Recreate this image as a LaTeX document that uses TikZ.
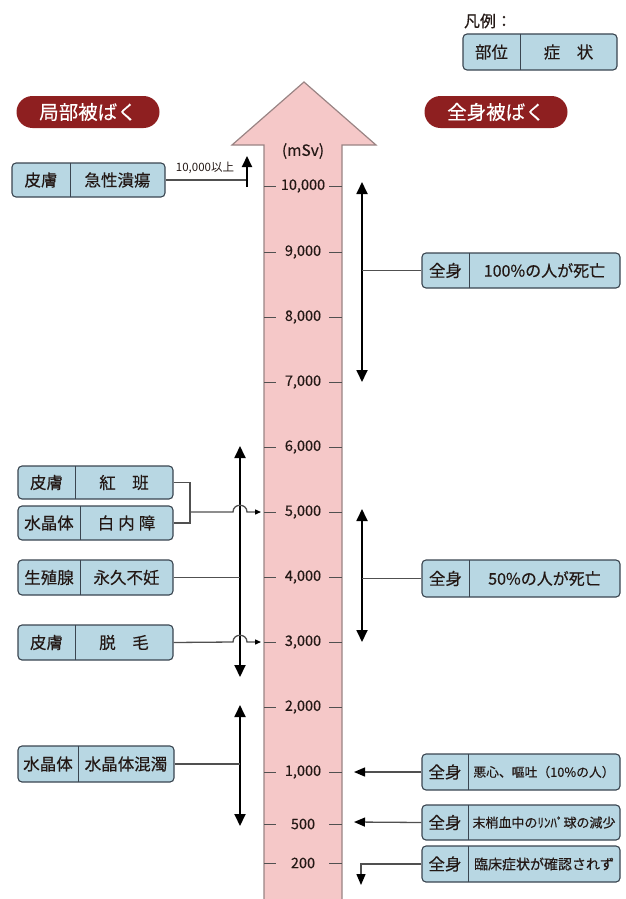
\documentclass[tikz,border=0pt]{standalone}
\usepackage{fontspec}
\setmainfont{Noto Sans CJK JP}
\newfontfamily\medfont[FakeBold=0.3]{Noto Sans CJK JP}
\usetikzlibrary{arrows.meta,fit}
\definecolor{boxfill}{HTML}{B8D7E3}
\definecolor{boxline}{HTML}{3A4550}
\definecolor{pillred}{HTML}{8E1F20}
\definecolor{shaftpink}{HTML}{F5C8C8}
\definecolor{shaftline}{HTML}{9A8484}
\definecolor{conngray}{HTML}{505050}
\definecolor{txt}{HTML}{231815}
\newcommand{\fsz}[1]{\fontsize{#1}{#1}\selectfont}
\newcommand{\partbox}[9]{%
  \node[box, fit={(#2,#3) (#4,#5)}] (#1) {};
  \draw[divline] (#6,#3) -- (#6,#5);
  \node[boxtxt] (#1p) at ({(#2+#6)/2},{(#3+#5)/2}) {#7};
  \node[boxtxt] (#1s) at ({(#6+#4)/2},{(#3+#5)/2}) {\fsz{#9}#8};
}
\newcommand{\tickmark}[3]{%
  \node[ticklbl] (#1) at (303,#2) {#3};
  \draw[tickline] (264,#2) -- (276,#2);
  \draw[tickline] (329,#2) -- (342,#2);
}
\begin{document}
\begin{tikzpicture}[x=1pt,y=-1pt,
  box/.style={draw=boxline, line width=1.1pt, fill=boxfill, rounded corners=4pt, inner sep=0pt},
  divline/.style={draw=boxline, line width=1pt},
  boxtxt/.style={text=txt, inner sep=0pt, font=\medfont\fsz{16.5}},
  pill/.style={fill=pillred, text=white, rounded corners=16pt, minimum width=143pt, minimum height=32pt, inner sep=0pt, font=\medfont\fsz{19.5}},
  ticklbl/.style={text=txt, inner sep=0pt, font=\medfont\fsz{14.5}},
  tickline/.style={draw=conngray, line width=1pt},
  conn/.style={draw=conngray, line width=1.3pt},
  connarr/.style={conn, -{Triangle[length=6pt,width=5pt,color=black,fill=black]}},
  bigarr/.style={conn, -{Triangle[length=11pt,width=9pt,color=black,fill=black]}},
  dbl/.style={draw=black, line width=1.8pt, {Triangle[length=12pt,width=11pt]}-{Triangle[length=12pt,width=11pt]}},
  sgl/.style={draw=black, line width=1.8pt, -{Triangle[length=11pt,width=10pt]}}
]
\useasboundingbox (0,0) rectangle (625,899);

% big arrow
\fill[shaftpink] (264,899) -- (264,145) -- (232,145) -- (304,82) -- (376,145) -- (342,145) -- (342,899) -- cycle;
\draw[shaftline, line width=1.2pt, line join=miter] (264,899) -- (264,145) -- (232,145) -- (304,82) -- (376,145) -- (342,145) -- (342,899);
\node[ticklbl, font=\medfont\fsz{15.5}] (unit) at (303,151) {(mSv)};

\tickmark{t10000}{186}{10,000}
\tickmark{t9000}{252}{9,000}
\tickmark{t8000}{317}{8,000}
\tickmark{t7000}{382}{7,000}
\tickmark{t6000}{447}{6,000}
\tickmark{t5000}{512}{5,000}
\tickmark{t4000}{577}{4,000}
\tickmark{t3000}{642}{3,000}
\tickmark{t2000}{707}{2,000}
\tickmark{t1000}{772}{1,000}
\tickmark{t500}{824}{500}
\tickmark{t200}{863}{200}

% legend
\node[text=txt, inner sep=0pt, font=\medfont\fsz{16}] (legtitle) at (488,21) {凡例：};
\partbox{leg}{463}{34}{617}{70}{520}{部位}{症\hspace{1em}状}{16.5}

% headers
\node[pill] (local) at (88,112) {局部被ばく};
\node[pill] (whole) at (496,112) {全身被ばく};

% left boxes
\partbox{A}{12}{163}{165}{197}{70}{皮膚}{急性潰瘍}{16.5}
\partbox{B}{18}{466}{173}{499}{75}{皮膚}{紅\hspace{1em}班}{16.5}
\partbox{C}{18}{506}{173}{540}{80}{水晶体}{白\hspace{4pt}内\hspace{4pt}障}{16.5}
\partbox{D}{18}{560}{173}{595}{80}{生殖腺}{永久不妊}{16.5}
\partbox{E}{18}{625}{173}{660}{75}{皮膚}{脱\hspace{1em}毛}{16.5}
\partbox{F}{18}{746}{174}{782}{78}{水晶体}{水晶体混濁}{16.5}

% right boxes
\partbox{G}{422}{253}{620}{288}{469}{全身}{100\%の人が死亡}{16}
\partbox{H}{422}{560}{620}{597}{469}{全身}{50\%の人が死亡}{16}
\partbox{I}{422}{754}{620}{790}{468}{全身}{悪心、嘔吐（10\%の人）}{12.8}
\partbox{J}{422}{805}{620}{840}{468}{全身}{末梢血中のﾘﾝﾊﾟ球の減少}{13}
\partbox{K}{422}{846}{620}{882}{468}{全身}{臨床症状が確認されず}{14}

% coordinates
\coordinate (upB) at (247,187);
\coordinate (upT) at (247,156);
\coordinate (aEnd) at (247,180);
\coordinate (l1t) at (240,446);
\coordinate (l1b) at (240,677);
\coordinate (l2t) at (240,705);
\coordinate (l2b) at (240,826);
\coordinate (r1t) at (362,182);
\coordinate (r1b) at (362,382);
\coordinate (r2t) at (362,509);
\coordinate (r2b) at (362,642);
\coordinate (brk) at (190,512);

% skin ulcer
\node[text=txt, inner sep=0pt, font=\fsz{11.5}] (over) at (205,168) {10,000以上};
\draw[conn] (A.east) -- (aEnd);
\draw[sgl] (upB) -- (upT);

% vertical double arrows
\draw[dbl] (l1b) -- (l1t);
\draw[dbl] (l2b) -- (l2t);
\draw[dbl] (r1b) -- (r1t);
\draw[dbl] (r2b) -- (r2t);

% bracket B/C -> 5000
\draw[conn] (B.east) -- (B.east -| brk) -- (C.east -| brk) -- (C.east);
\draw[connarr] (brk) -- (233,512) .. controls (233,503) and (247,503) .. (247,512) -- (261,512);
% D
\draw[conn] (D.east) -- (D.east -| l1t);
% E -> 3000
\draw[connarr] (E.east) -- (233,642) .. controls (233,633) and (247,633) .. (247,642) -- (261,642);
% F
\draw[conn] (F.east) -- (F.east -| l2t);

% right connectors
\draw[conn] (G.west -| r1t) -- (G.west);
\draw[conn] (H.west -| r2t) -- (H.west);
\draw[bigarr] (I.west) -- (354,772);
\draw[bigarr] (J.west) -- (354,822);
\draw[bigarr] (K.west) -- (361,864) -- (361,885);
\end{tikzpicture}
\end{document}
